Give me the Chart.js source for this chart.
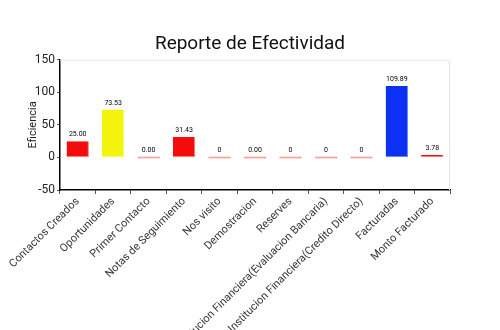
<!DOCTYPE html>
<html>
<head>
<meta charset="utf-8">
<script src="https://cdn.jsdelivr.net/npm/chart.js@4/dist/chart.umd.min.js"></script>
<style>
  html, body { margin: 0; padding: 0; background: #fff; }
  #wrap { width: 500px; height: 330px; }
</style>
</head>
<body>
<div id="wrap"><canvas id="c" width="500" height="330"></canvas></div>
<script>
const categories = [
  'Contactos Creados', 'Oportunidades', 'Primer Contacto', 'Notas de Seguimiento',
  'Nos visito', 'Demostracion', 'Reserves',
  'Institucion Financiera(Evaluacion Bancaria)', 'Institucion Financiera(Credito Directo)',
  'Facturadas', 'Monto Facturado'
];
const efficiency = [25.00, 73.53, 0, 31.43, 0, 0, 0, 0, 0, 109.89, 3.78];
const valueDecimals = [2, 2, 2, 2, 0, 2, 0, 0, 0, 2, 2];
const barColors = ['#f40c0c', '#f4f40c', '#f40c0c', '#f40c0c', '#f40c0c', '#f40c0c', '#f40c0c', '#f40c0c', '#f40c0c', '#0c30f4', '#f40c0c'];
const edgeColors = ['#ff7878', '#f8f870', '#ff7878', '#ff7878', '#ff7878', '#ff7878', '#ff7878', '#ff7878', '#ff7878', '#6a86ff', '#ff7878'];
const yTicks = { min: -50, max: 150, step: 25, labelEvery: 50 };

const FAMILY = 'Roboto, "DejaVu Sans", sans-serif';

// Value captions above each bar
const valueLabels = {
  id: 'valueLabels',
  afterDatasetsDraw(chart) {
    const ctx = chart.ctx;
    const meta = chart.getDatasetMeta(0);
    ctx.save();
    ctx.font = '7px ' + FAMILY;
    ctx.fillStyle = '#000';
    ctx.textAlign = 'center';
    ctx.textBaseline = 'bottom';
    meta.data.forEach((bar, i) => {
      const top = Math.min(bar.y, bar.base);
      ctx.fillText(efficiency[i].toFixed(valueDecimals[i]), bar.x, top - 3);
    });
    ctx.restore();
  }
};

// Light frame on the top and right of the plot area
const plotFrame = {
  id: 'plotFrame',
  beforeDatasetsDraw(chart) {
    const a = chart.chartArea;
    const ctx = chart.ctx;
    ctx.save();
    ctx.strokeStyle = '#e4e4e4';
    ctx.lineWidth = 1;
    ctx.beginPath();
    ctx.moveTo(a.left, a.top + 0.5);
    ctx.lineTo(a.right - 0.5, a.top + 0.5);
    ctx.lineTo(a.right - 0.5, a.bottom);
    ctx.stroke();
    ctx.restore();
  }
};

const pink = 'rgba(248,130,130,0.95)';

new Chart(document.getElementById('c'), {
  type: 'bar',
  data: {
    labels: categories,
    datasets: [{
      data: efficiency,
      yAxisID: 'y',
      backgroundColor: efficiency.map((v, i) => v === 0 ? pink : barColors[i]),
      borderColor: edgeColors,
      borderWidth: { top: 0, left: 0, right: 1, bottom: 1 },
      borderSkipped: false,
      minBarLength: 2,
      categoryPercentage: 1,
      barPercentage: 0.63
    }]
  },
  plugins: [plotFrame, valueLabels],
  options: {
    responsive: false,
    animation: false,
    layout: { padding: { left: 27, right: 27, top: 0, bottom: 0 } },
    plugins: {
      legend: { display: false },
      tooltip: { enabled: false },
      title: {
        display: true,
        text: 'Reporte de Efectividad',
        color: '#111',
        font: { family: FAMILY, size: 19, weight: 'normal', lineHeight: 1.2 },
        padding: { top: 33, bottom: 4 }
      }
    },
    scales: {
      x: {
        afterFit(scale) { scale.height = 140; },
        grid: { drawOnChartArea: false, drawTicks: true, tickLength: 4, color: '#555' },
        border: { display: true, color: '#000', width: 1.5 },
        ticks: {
          autoSkip: false,
          maxRotation: 45,
          minRotation: 45,
          color: '#333',
          padding: 1,
          font: { family: FAMILY, size: 11 }
        }
      },
      y: {
        min: yTicks.min,
        max: yTicks.max,
        afterFit(scale) { scale.width = 33; },
        grid: {
          drawOnChartArea: false,
          drawTicks: true,
          tickLength: 3,
          color: (c) => (c.tick && c.tick.value % yTicks.labelEvery !== 0) ? '#f03030' : '#555'
        },
        border: { display: true, color: '#000', width: 1.5 },
        ticks: {
          stepSize: yTicks.step,
          color: '#222',
          padding: 2,
          font: { family: FAMILY, size: 12 },
          callback: (v) => v % yTicks.labelEvery === 0 ? v : ''
        },
        title: {
          display: true,
          text: 'Eficiencia',
          color: '#222',
          font: { family: FAMILY, size: 11 },
          padding: { top: 0, bottom: 0 }
        }
      },
      // empty right-hand margin beside the plot
      yRight: {
        position: 'right',
        min: yTicks.min,
        max: yTicks.max,
        afterFit(scale) { scale.width = 23; },
        grid: { display: false },
        border: { display: false },
        ticks: { display: false }
      }
    }
  }
});
</script>
</body>
</html>
